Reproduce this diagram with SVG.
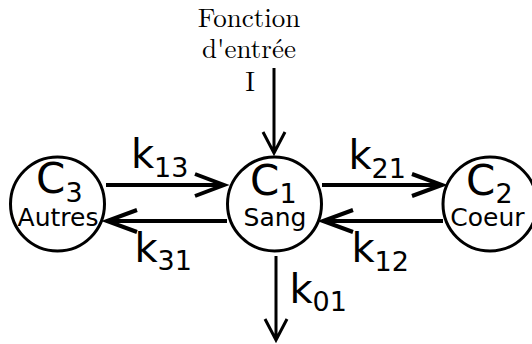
<svg xmlns="http://www.w3.org/2000/svg" width="532" height="344" viewBox="0 0 532 344">
<style>
.node{fill:#fff;stroke:#000;stroke-width:3}
.big{font-family:"DejaVu Sans",sans-serif;font-size:42px;fill:#000}
.sub{font-family:"DejaVu Sans",sans-serif;font-size:27px;fill:#000}
.lbl{font-family:"DejaVu Sans",sans-serif;font-size:25px;fill:#000;text-anchor:middle}
.k{font-family:"DejaVu Sans",sans-serif;font-size:40px;fill:#000}
.top{font-family:"Latin Modern Roman","Liberation Serif",serif;font-size:27px;fill:#000;text-anchor:middle}
.h{fill:none;stroke:#000;stroke-width:4}
.v{fill:none;stroke:#000;stroke-width:3}
</style>
<rect width="532" height="344" fill="#fff"/>
<g id="input-label">
<text class="top" x="249" y="27">Fonction</text>
<text class="top" x="249" y="58">d'entrée</text>
<text class="top" x="250" y="91">I</text>
</g>
<g id="connectors">
<path class="v" d="M274,68 V152 M263,132 L274,153 L285,132"/>
<path class="v" d="M276,256 V339 M265,319 L276,340 L287,319"/>
<path class="h" d="M106,185 H223 M195,174 L224,185 L195,196"/>
<path class="h" d="M227,221 H108 M137,210 L107,221 L137,232"/>
<path class="h" d="M322,185 H441 M412,174 L442,185 L412,196"/>
<path class="h" d="M443,221 H324 M353,210 L323,221 L353,232"/>
</g>
<g id="k-labels">
<text class="k" x="131" y="168">k</text><text class="sub" x="154" y="177">13</text>
<text class="k" x="134.5" y="262">k</text><text class="sub" x="157.5" y="270">31</text>
<text class="k" x="348.5" y="169">k</text><text class="sub" x="371.5" y="178">21</text>
<text class="k" x="351.5" y="262">k</text><text class="sub" x="374.5" y="271">12</text>
<text class="k" x="289.5" y="303">k</text><text class="sub" x="312.5" y="311">01</text>
</g>
<g id="C3">
<circle class="node" cx="57.5" cy="204" r="47"/>
<text class="big" x="36" y="193">C</text><text class="sub" x="65.5" y="202">3</text>
<text class="lbl" x="58" y="226">Autres</text>
</g>
<g id="C1">
<circle class="node" cx="274.5" cy="204" r="47"/>
<text class="big" x="250" y="195">C</text><text class="sub" x="279.5" y="203">1</text>
<text class="lbl" x="275" y="226">Sang</text>
</g>
<g id="C2">
<circle class="node" cx="490" cy="204" r="47"/>
<text class="big" x="466" y="195">C</text><text class="sub" x="495.5" y="203">2</text>
<text class="lbl" x="487.5" y="226">Coeur</text>
</g>
</svg>
